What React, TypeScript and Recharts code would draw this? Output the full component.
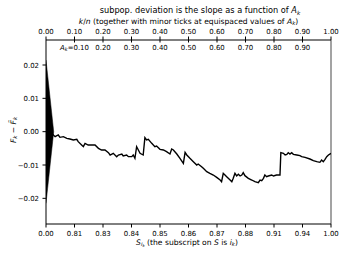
import React from "react";
import { Area, ComposedChart, Line, ReferenceLine, XAxis, YAxis } from "recharts";

const FONT = "DejaVu Sans";
const TICK = 6.94;
const LABEL = 7.6;
const SUB = 5.3;

// k/n along the curve and F_k - F~_k at that point
const curveX = [
  0, 0.02, 0.032, 0.043, 0.049, 0.061, 0.073, 0.084, 0.096, 0.108, 0.113, 0.125, 0.131, 0.137,
  0.148, 0.16, 0.172, 0.184, 0.195, 0.207, 0.219, 0.225, 0.236, 0.248, 0.254, 0.266, 0.271, 0.283,
  0.289, 0.301, 0.306, 0.312, 0.318, 0.324, 0.33, 0.341, 0.347, 0.353, 0.359, 0.371, 0.382, 0.388,
  0.4, 0.412, 0.423, 0.435, 0.441, 0.447, 0.459, 0.47, 0.482, 0.488, 0.494, 0.505, 0.517, 0.529,
  0.534, 0.546, 0.552, 0.564, 0.575, 0.587, 0.599, 0.611, 0.616, 0.622, 0.628, 0.634, 0.646, 0.652,
  0.657, 0.663, 0.669, 0.675, 0.681, 0.687, 0.692, 0.698, 0.71, 0.722, 0.733, 0.745, 0.751, 0.757,
  0.763, 0.768, 0.774, 0.78, 0.792, 0.798, 0.809, 0.821, 0.824, 0.833, 0.839, 0.845, 0.85, 0.856,
  0.862, 0.868, 0.88, 0.891, 0.897, 0.909, 0.926, 0.938, 0.95, 0.961, 0.967, 0.973, 0.979, 0.985,
  0.991, 1.0,
];
const curveY = [
  0, -0.0005, -0.0015, -0.001, -0.0017, -0.0015, -0.002, -0.0022, -0.0025, -0.0023, -0.003, -0.004,
  -0.0045, -0.0035, -0.004, -0.004, -0.004, -0.005, -0.0055, -0.0055, -0.0063, -0.007, -0.0065,
  -0.0075, -0.007, -0.0067, -0.0073, -0.007, -0.0075, -0.0075, -0.007, -0.008, -0.0045, -0.0055,
  -0.0065, -0.007, -0.0018, -0.0025, -0.0023, -0.0035, -0.0045, -0.0043, -0.0053, -0.0055, -0.006,
  -0.0067, -0.0052, -0.0055, -0.0067, -0.008, -0.0095, -0.0062, -0.007, -0.008, -0.009, -0.01,
  -0.0097, -0.0105, -0.011, -0.012, -0.0125, -0.013, -0.0137, -0.0145, -0.015, -0.0125, -0.013,
  -0.0135, -0.0145, -0.015, -0.014, -0.0125, -0.0133, -0.0128, -0.0133, -0.013, -0.0123, -0.0132,
  -0.014, -0.0145, -0.015, -0.0153, -0.0145, -0.0147, -0.014, -0.013, -0.0135, -0.0133, -0.013,
  -0.0133, -0.013, -0.013, -0.0063, -0.0065, -0.007, -0.0068, -0.0063, -0.0067, -0.0063, -0.0068,
  -0.007, -0.0072, -0.0075, -0.0077, -0.0082, -0.0087, -0.009, -0.0092, -0.0085, -0.009, -0.0083,
  -0.0075, -0.007, -0.0065,
];

// black triangle at the origin
const triangleX = [0, 0.027];
const triangleLow = [-0.0215, 0];
const triangleHigh = [0.0215, 0];

const kTicks = [0, 0.1, 0.2, 0.3, 0.4, 0.5, 0.6, 0.7, 0.8, 0.9, 1];
const kLabels = ["0.00", "0.10", "0.20", "0.30", "0.40", "0.50", "0.60", "0.70", "0.80", "0.90", "1.00"];
const sLabels = ["0.00", "0.81", "0.83", "0.84", "0.85", "0.86", "0.87", "0.88", "0.91", "0.94", "1.00"];
const akTicks = [0.1, 0.2, 0.3, 0.4, 0.5, 0.6, 0.7, 0.8, 0.9];
const akLabels = ["0.10", "0.20", "0.30", "0.40", "0.50", "0.60", "0.70", "0.80", "0.90"];
const yTicks = [-0.02, -0.01, 0, 0.01, 0.02];
const yLabels = ["\u22120.02", "\u22120.01", "0.00", "0.01", "0.02"];
// minor ticks on the bottom axis (k/n positions)
const sMinorTicks = [
  0.004, 0.011, 0.018, 0.025, 0.032, 0.039, 0.046, 0.053, 0.06, 0.067, 0.074, 0.081, 0.088, 0.095,
  0.102, 0.109, 0.116, 0.123, 0.13, 0.137, 0.144, 0.151, 0.196, 0.232, 0.267, 0.305, 0.354, 0.382,
  0.453, 0.481, 0.519, 0.561, 0.614, 0.656, 0.677, 0.73, 0.761, 0.782, 0.807, 0.842, 0.877, 0.912,
  0.937, 0.958, 0.968, 0.979, 0.989,
];

const curve = curveX.map((x, i) => ({ x, y: curveY[i] }));
const triangle = triangleX.map((x, i) => ({ x, band: [triangleLow[i], triangleHigh[i]] }));

const find = (arr: number[], v: number) => arr.findIndex((t) => Math.abs(t - v) < 1e-9);

const TopTick = (props: any) => (
  <text x={props.x} y={props.y - 0.5} textAnchor="middle" fontSize={TICK} fontFamily={FONT} fill="#000">
    {kLabels[find(kTicks, props.payload.value)]}
  </text>
);

const AkTick = (props: any) => {
  const i = find(akTicks, props.payload.value);
  return (
    <text x={props.x} y={props.y + 4.5} textAnchor="middle" fontSize={TICK} fontFamily={FONT} fill="#000">
      {i === 0 && (
        <>
          <tspan fontStyle="italic">A</tspan>
          <tspan fontSize={4.9} fontStyle="italic" dy={1.4}>k</tspan>
          <tspan dy={-1.4}>=</tspan>
        </>
      )}
      {akLabels[i]}
    </text>
  );
};

const BottomTick = (props: any) => (
  <text x={props.x} y={props.y + 6} textAnchor="middle" fontSize={TICK} fontFamily={FONT} fill="#000">
    {sLabels[find(kTicks, props.payload.value)]}
  </text>
);

const LeftTick = (props: any) => (
  <text x={props.x} y={props.y + 2.5} textAnchor="end" fontSize={TICK} fontFamily={FONT} fill="#000">
    {yLabels[find(yTicks, props.payload.value)]}
  </text>
);

const TopTitle = () => (
  <text x={188.5} y={23.5} textAnchor="middle" fontSize={LABEL} fontFamily={FONT} fill="#000">
    <tspan fontStyle="italic">k</tspan>/<tspan fontStyle="italic">n</tspan> (together with minor ticks at
    equispaced values of <tspan fontStyle="italic">A</tspan>
    <tspan fontSize={SUB} fontStyle="italic" dy={1.5}>k</tspan>
    <tspan dy={-1.5}>)</tspan>
  </text>
);

const BottomTitle = () => (
  <text x={187} y={244.5} textAnchor="middle" fontSize={LABEL} fontFamily={FONT} fill="#000">
    <tspan fontStyle="italic">S</tspan>
    <tspan fontSize={SUB} fontStyle="italic" dy={1.5}>i</tspan>
    <tspan fontSize={3.9} fontStyle="italic" dy={1}>k</tspan>
    <tspan dy={-2.5}> (the subscript on </tspan>
    <tspan fontStyle="italic">S</tspan> is <tspan fontStyle="italic">i</tspan>
    <tspan fontSize={SUB} fontStyle="italic" dy={1.5}>k</tspan>
    <tspan dy={-1.5}>)</tspan>
  </text>
);

const YTitle = () => (
  <text transform="translate(15.5,130) rotate(-90)" textAnchor="middle" fontSize={LABEL} fontFamily={FONT} fill="#000">
    <tspan fontStyle="italic">F</tspan>
    <tspan fontSize={SUB} fontStyle="italic" dy={1.5}>k</tspan>
    <tspan dy={-1.5}> {"\u2212"} </tspan>
    <tspan fontStyle="italic">{"F\u0303"}</tspan>
    <tspan fontSize={SUB} fontStyle="italic" dy={1.5}>k</tspan>
  </text>
);

export default function App() {
  return (
    <div style={{ position: "absolute", left: 0, top: 0, width: 345, height: 254, background: "#fff" }}>
      <svg width={345} height={20} style={{ position: "absolute", left: 0, top: 0 }}>
        <text x={200} y={13} textAnchor="middle" fontSize={8.2} fontFamily={FONT} fill="#000">
          subpop. deviation is the slope as a function of <tspan fontStyle="italic">A</tspan>
          <tspan fontSize={5.7} fontStyle="italic" dy={1.7}>k</tspan>
        </text>
      </svg>
      <ComposedChart width={345} height={254} data={curve} margin={{ top: 0, right: 14, bottom: 0, left: 0 }}>
        <XAxis
          xAxisId="k"
          dataKey="x"
          type="number"
          orientation="top"
          domain={[0, 1]}
          allowDataOverflow
          ticks={kTicks}
          interval={0}
          height={40}
          tickSize={3.5}
          tickMargin={2}
          tick={<TopTick />}
          axisLine={{ stroke: "#000" }}
          tickLine={{ stroke: "#000" }}
          label={<TopTitle />}
        />
        <XAxis
          xAxisId="ak"
          dataKey="x"
          type="number"
          orientation="top"
          mirror
          domain={[0, 1]}
          allowDataOverflow
          ticks={akTicks}
          interval={0}
          height={1}
          tickSize={2.5}
          tickMargin={3}
          tick={<AkTick />}
          axisLine={false}
          tickLine={{ stroke: "#000" }}
        />
        <XAxis
          xAxisId="s"
          dataKey="x"
          type="number"
          orientation="bottom"
          domain={[0, 1]}
          allowDataOverflow
          ticks={kTicks}
          interval={0}
          height={30}
          tickSize={3.5}
          tickMargin={2}
          tick={<BottomTick />}
          axisLine={{ stroke: "#000" }}
          tickLine={{ stroke: "#000" }}
          label={<BottomTitle />}
        />
        <XAxis
          xAxisId="sMinor"
          dataKey="x"
          type="number"
          orientation="bottom"
          mirror
          domain={[0, 1]}
          allowDataOverflow
          ticks={sMinorTicks}
          interval={0}
          height={1}
          tickSize={2}
          tick={false}
          axisLine={false}
          tickLine={{ stroke: "#000" }}
        />
        <YAxis
          yAxisId="v"
          type="number"
          domain={[-0.0277, 0.0275]}
          allowDataOverflow
          ticks={yTicks}
          interval={0}
          width={46}
          tickSize={3.5}
          tickMargin={3.5}
          tick={<LeftTick />}
          axisLine={{ stroke: "#000" }}
          tickLine={{ stroke: "#000" }}
          label={<YTitle />}
        />
        <ReferenceLine xAxisId="k" yAxisId="v" x={1} stroke="#666" strokeWidth={1.2} />
        <Area
          xAxisId="k"
          yAxisId="v"
          data={triangle}
          dataKey="band"
          type="linear"
          stroke="#000"
          strokeWidth={0.5}
          fill="#000"
          fillOpacity={1}
          isAnimationActive={false}
        />
        <Line
          xAxisId="k"
          yAxisId="v"
          data={curve}
          dataKey="y"
          type="linear"
          stroke="#000"
          strokeWidth={1.4}
          dot={false}
          isAnimationActive={false}
        />
      </ComposedChart>
    </div>
  );
}
